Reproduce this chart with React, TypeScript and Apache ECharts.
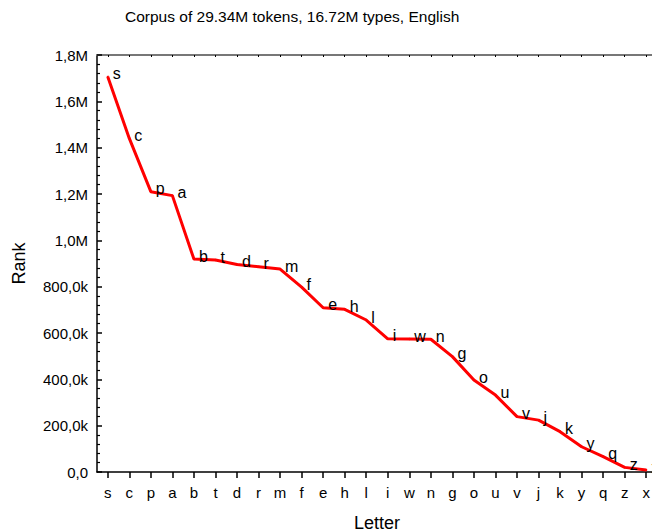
import React, { useEffect, useRef } from "react";
import * as echarts from "echarts";

const letters = ["s","c","p","a","b","t","d","r","m","f","e","h","l","i","w","n","g","o","u","v","j","k","y","q","z","x"];
const ranks = [1706000,1440000,1210000,1193000,919000,915000,896000,886000,876000,798000,709000,702000,656000,575000,574000,573000,498000,397000,332000,239000,224000,174000,109000,66000,20000,8600];

const FONT = "'Liberation Sans', Arial, sans-serif";

function fmtY(v: number): string {
  if (v === 0) return "0,0";
  if (v >= 1000000) return (v / 1000000).toFixed(1).replace(".", ",") + "M";
  return (v / 1000).toFixed(1).replace(".", ",") + "k";
}

export default function App() {
  const ref = useRef<HTMLDivElement>(null);
  useEffect(() => {
    const chart = echarts.init(ref.current!, null, { renderer: "svg" });
    chart.setOption({
      animation: false,
      backgroundColor: "#fff",
      textStyle: { fontFamily: FONT, color: "#000" },
      title: {
        text: "Corpus of 29.34M tokens, 16.72M types, English",
        left: 120,
        top: 3,
        textStyle: { fontFamily: FONT, fontSize: 15.5, fontWeight: "normal", color: "#000" },
      },
      grid: { left: 97, top: 55, bottom: 59, right: -5, containLabel: false, outerBoundsMode: "none" },
      xAxis: [
        {
          type: "category",
          data: letters,
          boundaryGap: true,
          name: "Letter",
          nameLocation: "middle",
          nameGap: 43,
          nameTextStyle: { fontFamily: FONT, fontSize: 18, lineHeight: 15, color: "#000" },
          axisLine: { show: true, lineStyle: { color: "#000", width: 1.5 } },
          axisTick: { show: true, alignWithLabel: true, length: 6, lineStyle: { color: "#000", width: 1.5 } },
          axisLabel: { interval: 0, margin: 13, fontFamily: FONT, fontSize: 15, color: "#000" },
          splitLine: { show: false },
        },
        {
          type: "category",
          data: letters,
          position: "top",
          boundaryGap: true,
          axisLine: { show: true, lineStyle: { color: "#777", width: 2 } },
          axisTick: { show: true, alignWithLabel: true, inside: true, length: 2, lineStyle: { color: "#000", width: 1 } },
          axisLabel: { show: false },
          splitLine: { show: false },
        },
      ],
      yAxis: {
        type: "value",
        min: 0,
        max: 1800000,
        interval: 200000,
        name: "Rank",
        nameLocation: "middle",
        nameGap: 69,
        nameTextStyle: { fontFamily: FONT, fontSize: 18, color: "#000" },
        axisLine: { show: true, lineStyle: { color: "#000", width: 1.5 } },
        axisTick: { show: true, inside: true, length: 5, lineStyle: { color: "#000", width: 1.5 } },
        minorTick: { show: true, splitNumber: 5, length: 3, lineStyle: { color: "#000", width: 1.2 } },
        axisLabel: { formatter: fmtY, margin: 9, fontFamily: FONT, fontSize: 15, color: "#000" },
        splitLine: { show: false },
      },
      series: [
        {
          type: "line",
          data: ranks,
          showSymbol: true,
          symbol: "circle",
          symbolSize: 2,
          itemStyle: { color: "#f00" },
          lineStyle: { color: "#f00", width: 3 },
          label: {
            show: true,
            position: "right",
            distance: 4,
            offset: [0, -3],
            formatter: (p: any) => letters[p.dataIndex],
            fontFamily: FONT,
            fontSize: 16,
            color: "#000",
          },
        },
      ],
    });
    return () => chart.dispose();
  }, []);
  return (
    <div style={{ position: "absolute", left: 0, top: 0, width: 652, height: 531, overflow: "hidden" }}>
      <div ref={ref} style={{ width: 652, height: 531 }} />
    </div>
  );
}
